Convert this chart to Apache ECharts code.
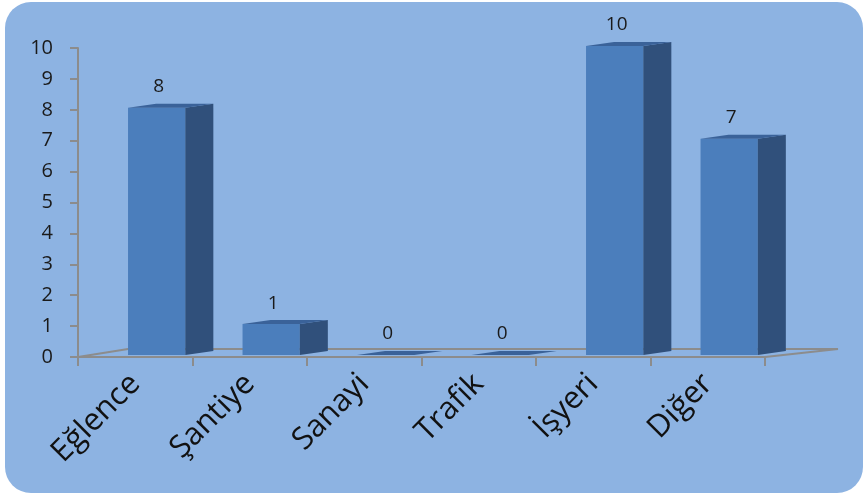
<!DOCTYPE html>
<html>
<head>
<meta charset="utf-8">
<title>Kaza yerleri</title>
<script src="https://cdn.jsdelivr.net/npm/echarts@6/dist/echarts.min.js"></script>
<style>
html, body { margin: 0; padding: 0; background: #fff; }
#main { width: 867px; height: 497px; }
</style>
</head>
<body>
<div id="main"></div>
<script>
// veriler
var categories = ['Eğlence', 'Şantiye', 'Sanayi', 'Trafik', 'İşyeri', 'Diğer'];
var values = [8, 1, 0, 0, 10, 7];
var yMin = 0;
var yMax = 10;
var yStep = 1;

var chart = echarts.init(document.getElementById('main'));

// grid yerleşimi
var gridLeft = 78, gridRight = 102, gridTop = 48, gridBottom = 140;
var W = 867, H = 497;
var floorY = H - gridBottom;
var axisGray = '#8c8c8c';

// 3B çubuk çizimi
function renderBar(params, api) {
	var idx = api.value(0);
	var val = api.value(1);
	var top = api.coord([idx, val]);
	var base = api.coord([idx, 0]);
	var bw = api.size([1, 0])[0];
	var x0 = top[0] - bw / 2 + bw * 0.437;
	var w = bw * 0.5;
	var dx = bw * 0.245, dy = 4;
	var lift = 2;
	var yT = top[1] - lift, yB = base[1] - lift;
	return {
		type: 'group',
		children: [
			{ type: 'polygon', shape: { points: [[x0, yB], [x0 + w, yB], [x0 + w, yT], [x0, yT]] },
				style: { fill: '#4B7EBC' } },
			{ type: 'polygon', shape: { points: [[x0 + w, yB], [x0 + w + dx, yB - dy], [x0 + w + dx, yT - dy], [x0 + w, yT]] },
				style: { fill: '#30507B' } },
			{ type: 'polygon', shape: { points: [[x0, yT], [x0 + w, yT], [x0 + w + dx, yT - dy], [x0 + dx, yT - dy]] },
				style: { fill: '#3A6299' } },
			{ type: 'text', x: x0 + w / 2 + 2, y: yT - 21,
				style: { text: String(val), align: 'center', verticalAlign: 'middle',
					font: '19px "Open Sans"', fill: '#1a1a1a' } }
		]
	};
}

var option = {
	animation: false,
	backgroundColor: '#fff',
	graphic: [
		{ type: 'rect', z: -10, shape: { x: 5, y: 2, width: 858, height: 491, r: 26 },
			style: { fill: '#8DB3E2' } },
		{ type: 'polyline', z: -5,
			shape: { points: [[gridLeft, floorY], [gridLeft + 50, floorY - 8], [W - gridRight + 73, floorY - 8], [W - gridRight, floorY]] },
			style: { stroke: axisGray, lineWidth: 2, fill: null } }
	],
	grid: { left: gridLeft, right: gridRight, top: gridTop, bottom: gridBottom, containLabel: false },
	xAxis: {
		type: 'category',
		data: categories,
		boundaryGap: true,
		axisLine: { show: true, lineStyle: { color: axisGray, width: 2 } },
		axisTick: { show: true, length: 9, lineStyle: { color: axisGray, width: 2 } },
		axisLabel: { interval: 0, rotate: 45, margin: 22, fontSize: 31, fontFamily: 'Open Sans', color: '#111' },
		splitLine: { show: false }
	},
	yAxis: {
		type: 'value',
		min: yMin,
		max: yMax,
		interval: yStep,
		axisLine: { show: true, lineStyle: { color: axisGray, width: 2 } },
		axisTick: { show: true, length: 8, lineStyle: { color: axisGray, width: 2 } },
		axisLabel: { margin: 25, fontSize: 20, fontFamily: 'Open Sans', color: '#1a1a1a' },
		splitLine: { show: false }
	},
	series: [{
		type: 'custom',
		renderItem: renderBar,
		encode: { x: 0, y: 1 },
		data: values.map(function (v, i) { return [i, v]; })
	}]
};

chart.setOption(option);
</script>
</body>
</html>
